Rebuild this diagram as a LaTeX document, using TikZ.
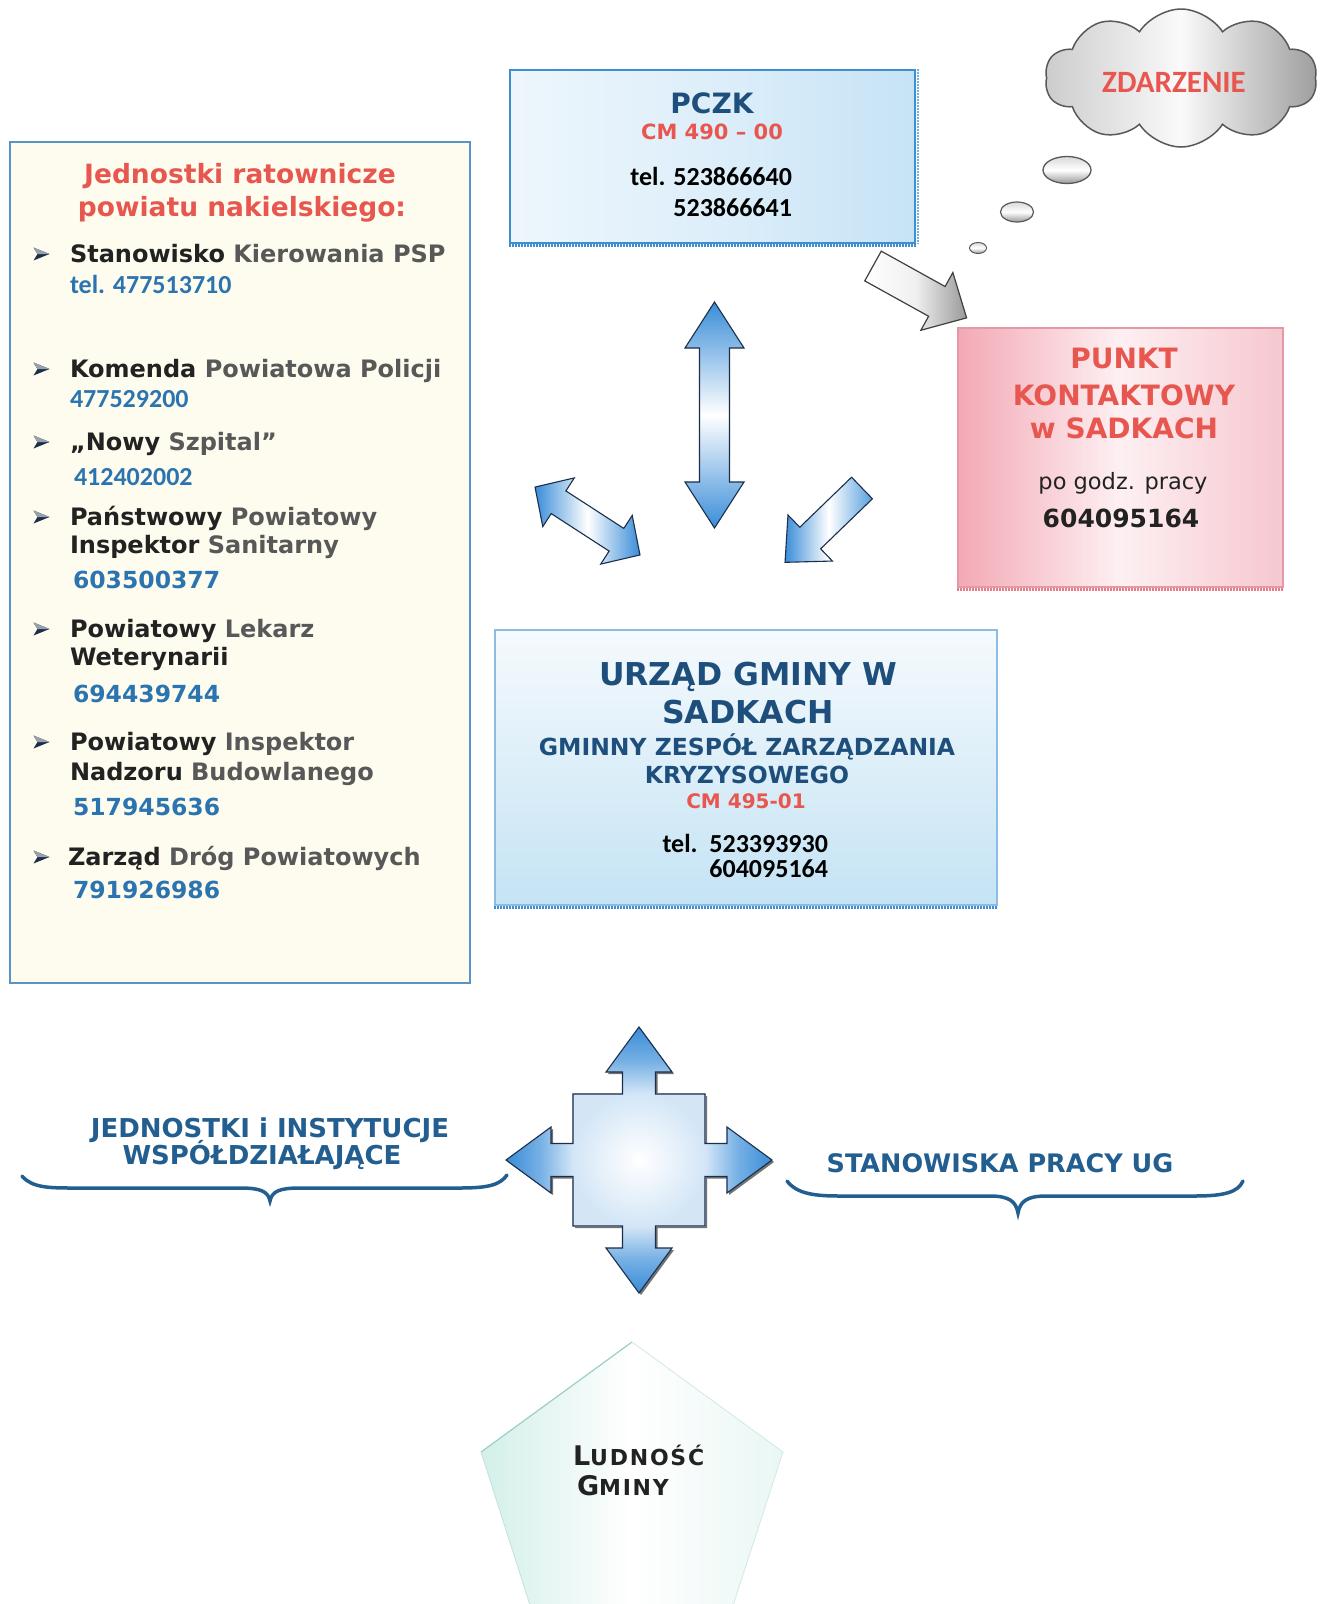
\documentclass[tikz,border=0pt]{standalone}
\usepackage{fontspec}
\setmainfont{DejaVu Sans}
\newfontfamily\calibri{Carlito}
\usetikzlibrary{shapes.symbols,shapes.geometric}
\definecolor{redt}{HTML}{E8574F}
\definecolor{navy}{HTML}{1E4F7C}
\definecolor{numblue}{HTML}{2B74B0}
\definecolor{bracec}{HTML}{235E90}
\definecolor{boxblue}{HTML}{3F8FD0}
\definecolor{arrblue}{HTML}{3A8DD8}
\definecolor{darkt}{HTML}{222222}
\definecolor{greyt}{HTML}{585858}
\definecolor{pczkL}{HTML}{EDF6FC}
\definecolor{pczkR}{HTML}{C6E3F6}
\definecolor{urzT}{HTML}{F5FAFD}
\definecolor{urzB}{HTML}{C4E3F4}
\definecolor{punkL}{HTML}{F3A9B5}
\definecolor{punkM}{HTML}{FDF0F2}
\definecolor{punkR}{HTML}{F6C7CF}
\definecolor{punkB}{HTML}{E29AA6}
\definecolor{cream}{HTML}{FDFCEF}
\definecolor{leftb}{HTML}{5A94C6}
\definecolor{mint}{HTML}{D3EFE9}
\definecolor{mintline}{HTML}{9CCFC5}
\definecolor{navyline}{HTML}{1B2F4A}
\newcommand\fs[1]{\fontsize{#1}{#1}\selectfont}
\begin{document}
\begin{tikzpicture}[x=1pt,y=-1pt,
  txt/.style={inner sep=0pt,outer sep=0pt},
  item/.style={txt,anchor=base west,font=\bfseries\fs{24},text=greyt},
  calnum/.style={txt,anchor=base west,font=\calibri\bfseries\fs{26},text=numblue},
  vernum/.style={txt,anchor=base west,font=\bfseries\fs{23.5},text=numblue},
  arrline/.style={draw=navyline,line width=1.1pt,line join=miter},
  bulletmark/.pic={
    \fill[navyline] (-8,-6.5) -- (8,0) -- (-8,6.5) -- (-4,0) -- cycle;
    \fill[navyline!45] (-8,-6.5) -- (8,0) -- (-4,0) -- cycle;
  }]
\useasboundingbox (0,0) rectangle (1324,1604);
\clip (0,0) rectangle (1324,1604);
\fill[white] (0,0) rectangle (1324,1604);

% ---------- PCZK box ----------
\node[rectangle,draw=boxblue,line width=1.5pt,left color=pczkL,right color=pczkR,middle color=pczkL!60!pczkR,
      minimum width=405,minimum height=173,inner sep=0pt] (pczk) at (712.5,156.5) {};
\draw[boxblue,line width=3pt,dash pattern=on 1.5pt off 1.5pt]
  ([yshift=-2pt]pczk.south west) -- ([yshift=-2pt]pczk.south east);
\draw[boxblue!70,line width=2pt,dash pattern=on 1.5pt off 1.5pt]
  ([xshift=2pt]pczk.north east) -- ([xshift=2pt]pczk.south east);
\node[txt,anchor=base,font=\bfseries\fs{28},text=navy] (pczkT) at (712,113) {PCZK};
\node[txt,anchor=base,font=\bfseries\fs{21},text=redt] (pczkC) at (712,139) {CM 490 – 00};
\node[txt,anchor=base east,font=\calibri\bfseries\fs{26},text=black] (pczk1) at (792,185) {tel. 523866640};
\node[txt,anchor=base east,font=\calibri\bfseries\fs{26},text=black] (pczk2) at (792,216) {523866641};

% ---------- cloud ----------
\node[cloud,cloud puffs=10,cloud puff arc=115,cloud ignores aspect,
      minimum width=272,minimum height=138,draw=black!65,line width=1.5pt,
      left color=black!20,right color=black!38,middle color=black!2] (cloud) at (1181,78) {};
\node[txt,anchor=base,font=\calibri\bfseries\fs{31},text=redt] (zdarz) at (1174,92) {ZDARZENIE};
\node[ellipse,draw=black!65,line width=1.3pt,minimum width=48,minimum height=27,inner sep=0pt,
      top color=black!15,bottom color=black!40,middle color=white] (bub1) at (1067,170) {};
\node[ellipse,draw=black!65,line width=1.2pt,minimum width=33,minimum height=20,inner sep=0pt,
      top color=black!15,bottom color=black!40,middle color=white] (bub2) at (1017,212) {};
\node[ellipse,draw=black!65,line width=1pt,minimum width=17,minimum height=11,inner sep=0pt,
      top color=black!15,bottom color=black!40,middle color=white] (bub3) at (978,248) {};

% ---------- left box ----------
\node[rectangle,draw=leftb,line width=1.6pt,fill=cream,minimum width=460,minimum height=841,inner sep=0pt] (leftbox) at (240,562.5) {};
\node[txt,anchor=base,font=\bfseries\fs{26.5},text=redt] (lt1) at (240,183) {Jednostki ratownicze};
\node[txt,anchor=base,font=\bfseries\fs{26.5},text=redt] (lt2) at (242,216) {powiatu nakielskiego:};

\pic at (41.5,254) {bulletmark};
\node[item] (i1) at (70,262) {\textcolor{darkt}{Stanowisko} Kierowania PSP};
\node[calnum] (n1) at (70,293) {tel. 477513710};
\pic at (41.5,369) {bulletmark};
\node[item] (i2) at (70,377) {\textcolor{darkt}{Komenda} Powiatowa Policji};
\node[calnum] (n2) at (70,407) {477529200};
\pic at (41.5,442) {bulletmark};
\node[item] (i3) at (70,450) {\textcolor{darkt}{„Nowy} Szpital”};
\node[calnum] (n3) at (74,485) {412402002};
\pic at (41.5,517) {bulletmark};
\node[item] (i4a) at (70,525) {\textcolor{darkt}{Państwowy} Powiatowy};
\node[item] (i4b) at (70,553) {\textcolor{darkt}{Inspektor} Sanitarny};
\node[vernum] (n4) at (73,588) {603500377};
\pic at (41.5,629) {bulletmark};
\node[item] (i5a) at (70,637) {\textcolor{darkt}{Powiatowy} Lekarz};
\node[item] (i5b) at (70,665) {\textcolor{darkt}{Weterynarii}};
\node[vernum] (n5) at (73,702) {694439744};
\pic at (41.5,742) {bulletmark};
\node[item] (i6a) at (70,750) {\textcolor{darkt}{Powiatowy} Inspektor};
\node[item] (i6b) at (70,780) {\textcolor{darkt}{Nadzoru} Budowlanego};
\node[vernum] (n6) at (73,815) {517945636};
\pic at (41.5,857) {bulletmark};
\node[item] (i7) at (68,865) {\textcolor{darkt}{Zarząd} Dróg Powiatowych};
\node[vernum] (n7) at (73,898) {791926986};

% ---------- PUNKT box ----------
\node[rectangle,draw=punkB,line width=1.2pt,left color=punkL,right color=punkR,middle color=punkM,
      minimum width=325,minimum height=259,inner sep=0pt] (punkt) at (1120.5,457.5) {};
\draw[punkB!80!red,line width=3pt,dash pattern=on 1.5pt off 1.5pt]
  ([yshift=-2pt]punkt.south west) -- ([yshift=-2pt]punkt.south east);
\node[txt,anchor=base,font=\bfseries\fs{28},text=redt] (pk1) at (1124,368) {PUNKT};
\node[txt,anchor=base,font=\bfseries\fs{28},text=redt] (pk2) at (1124,405) {KONTAKTOWY};
\node[txt,anchor=base,font=\bfseries\fs{28},text=redt] (pk3) at (1124,438) {w SADKACH};
\node[txt,anchor=base,font=\fs{22.5},text=darkt] (pk4) at (1123,489) {po godz. pracy};
\node[txt,anchor=base,font=\bfseries\fs{25},text=darkt] (pk5) at (1121,527) {604095164};

% ---------- URZAD box ----------
\node[rectangle,draw=boxblue!60,line width=1.2pt,top color=urzT,bottom color=urzB,
      minimum width=502,minimum height=275,inner sep=0pt] (urzad) at (746,767.5) {};
\draw[boxblue,line width=3pt,dash pattern=on 1.5pt off 1.5pt]
  ([yshift=-2pt]urzad.south west) -- ([yshift=-2pt]urzad.south east);
\node[txt,anchor=base,font=\bfseries\fs{31.5},text=navy] (u1) at (748,685) {URZĄD GMINY W};
\node[txt,anchor=base,font=\bfseries\fs{31.5},text=navy] (u2) at (748,723) {SADKACH};
\node[txt,anchor=base,font=\bfseries\fs{23.5},text=navy] (u3) at (747,755) {GMINNY ZESPÓŁ ZARZĄDZANIA};
\node[txt,anchor=base,font=\bfseries\fs{23.5},text=navy] (u4) at (747,783) {KRYZYSOWEGO};
\node[txt,anchor=base,font=\bfseries\fs{20},text=redt] (u5) at (746,808) {CM 495-01};
\node[txt,anchor=base east,font=\calibri\bfseries\fs{26},text=black] (u6) at (828,852) {tel.\ \ 523393930};
\node[txt,anchor=base east,font=\calibri\bfseries\fs{26},text=black] (u7) at (828,877) {604095164};

% ---------- grey arrow PCZK -> PUNKT ----------
\begin{scope}[shift={(873,266)},rotate=-29]
  \draw[draw=black!75,line width=1.2pt,left color=white,right color=black!40,middle color=black!6,line join=miter]
    (0,-17) -- (73,-17) -- (73,-33) -- (107,0) -- (73,33) -- (73,17) -- (0,17) -- cycle;
\end{scope}

% ---------- vertical double arrow ----------
\draw[arrline,top color=arrblue,bottom color=arrblue,middle color=white]
  (714.5,302) -- (744,348) -- (729.5,348) -- (729.5,482) -- (744,482) -- (714.5,528)
  -- (685,482) -- (699.5,482) -- (699.5,348) -- (685,348) -- cycle;

% ---------- diagonal double arrow (left) ----------
\begin{scope}[shift={(587.5,521)},rotate=-32.9]
  \draw[arrline,left color=arrblue,right color=arrblue,middle color=white]
    (-62.5,0) -- (-34.5,-29) -- (-34.5,-13.5) -- (34.5,-13.5) -- (34.5,-29) -- (62.5,0)
    -- (34.5,29) -- (34.5,13.5) -- (-34.5,13.5) -- (-34.5,29) -- cycle;
\end{scope}

% ---------- single arrow (right, pointing down-left) ----------
\begin{scope}[shift={(862,488)},rotate=-136]
  \draw[arrline,left color=arrblue,right color=arrblue!85,middle color=white]
    (0,-15) -- (72,-15) -- (72,-32) -- (107,0) -- (72,32) -- (72,15) -- (0,15) -- cycle;
\end{scope}

% ---------- four-way arrow ----------
\begin{scope}[shift={(641,1162)}]
  \fill[black!55]
    (0,-133) -- (33,-88) -- (16.5,-88) -- (16.5,-66) -- (66,-66) -- (66,-16.5) -- (88,-16.5) -- (88,-33)
    -- (133,0) -- (88,33) -- (88,16.5) -- (66,16.5) -- (66,66) -- (16.5,66) -- (16.5,88) -- (33,88)
    -- (0,133) -- (-33,88) -- (-16.5,88) -- (-16.5,66) -- (-66,66) -- (-66,16.5) -- (-88,16.5) -- (-88,33)
    -- (-133,0) -- (-88,-33) -- (-88,-16.5) -- (-66,-16.5) -- (-66,-66) -- (-16.5,-66) -- (-16.5,-88) -- (-33,-88) -- cycle;
\end{scope}
\begin{scope}[shift={(639,1160)}]
  % central square
  \shade[inner color=white,outer color=arrblue!22] (-66.5,-66.5) rectangle (66.5,66.5);
  % arms
  \shade[top color=arrblue,bottom color=arrblue!22,middle color=arrblue!70]
    (-16.5,-66) -- (-16.5,-88) -- (-33,-88) -- (0,-133) -- (33,-88) -- (16.5,-88) -- (16.5,-66) -- cycle;
  \shade[bottom color=arrblue,top color=arrblue!22,middle color=arrblue!70]
    (-16.5,66) -- (-16.5,88) -- (-33,88) -- (0,133) -- (33,88) -- (16.5,88) -- (16.5,66) -- cycle;
  \shade[left color=arrblue,right color=arrblue!22,middle color=arrblue!70]
    (-66,-16.5) -- (-88,-16.5) -- (-88,-33) -- (-133,0) -- (-88,33) -- (-88,16.5) -- (-66,16.5) -- cycle;
  \shade[right color=arrblue,left color=arrblue!22,middle color=arrblue!70]
    (66,-16.5) -- (88,-16.5) -- (88,-33) -- (133,0) -- (88,33) -- (88,16.5) -- (66,16.5) -- cycle;
  \draw[arrline] (0,-133) coordinate (crossN) -- (33,-88) -- (16.5,-88) -- (16.5,-66) -- (66,-66) -- (66,-16.5) -- (88,-16.5) -- (88,-33)
    -- (133,0) -- (88,33) -- (88,16.5) -- (66,16.5) -- (66,66) -- (16.5,66) -- (16.5,88) -- (33,88)
    -- (0,133) -- (-33,88) -- (-16.5,88) -- (-16.5,66) -- (-66,66) -- (-66,16.5) -- (-88,16.5) -- (-88,33)
    -- (-133,0) -- (-88,-33) -- (-88,-16.5) -- (-66,-16.5) -- (-66,-66) -- (-16.5,-66) -- (-16.5,-88) -- (-33,-88) -- cycle;
\end{scope}

% ---------- braces and labels ----------
\node[txt,anchor=base,font=\bfseries\fs{26},text=bracec] (jl1) at (270,1137) {JEDNOSTKI i INSTYTUCJE};
\node[txt,anchor=base,font=\bfseries\fs{26},text=bracec] (jl2) at (262,1164) {WSPÓŁDZIAŁAJĄCE};
\draw[bracec,line width=3.5pt,line cap=round]
  (22,1176) .. controls (32,1188) and (50,1188) .. (75,1188) -- (240,1188)
  .. controls (260,1188) and (268,1191) .. (270,1201)
  .. controls (272,1191) and (280,1188) .. (300,1188) -- (460,1188)
  .. controls (488,1188) and (500,1185) .. (507,1175);
\node[txt,anchor=base,font=\bfseries\fs{25.5},text=bracec] (sp) at (1000,1172) {STANOWISKA PRACY UG};
\draw[bracec,line width=3.5pt,line cap=round]
  (787,1181) .. controls (797,1194) and (815,1196) .. (840,1196) -- (990,1196)
  .. controls (1010,1196) and (1016,1202) .. (1018,1213)
  .. controls (1020,1202) and (1026,1196) .. (1046,1196) -- (1195,1196)
  .. controls (1225,1196) and (1238,1192) .. (1243,1181);

% ---------- pentagon ----------
\shade[left color=mint,right color=mint!50,middle color=white]
  (632,1342) -- (783,1452) -- (725,1630) -- (538,1630) -- (481,1452) -- cycle;
\draw[mintline,line width=1.2pt] (481,1452) -- (632,1342);
\draw[mintline!45,line width=0.8pt] (632,1342) -- (783,1452) -- (725,1630);
\draw[mintline!60,line width=0.8pt] (481,1452) -- (538,1630);
\node[txt,anchor=base west,font=\bfseries\addfontfeature{LetterSpace=8},text=darkt] (lud1) at (573,1465) {\fs{27}L\fs{22}UDNOŚĆ};
\node[txt,anchor=base west,font=\bfseries\addfontfeature{LetterSpace=8},text=darkt] (lud2) at (577,1495) {\fs{27}G\fs{22}MINY};
\end{tikzpicture}
\end{document}
